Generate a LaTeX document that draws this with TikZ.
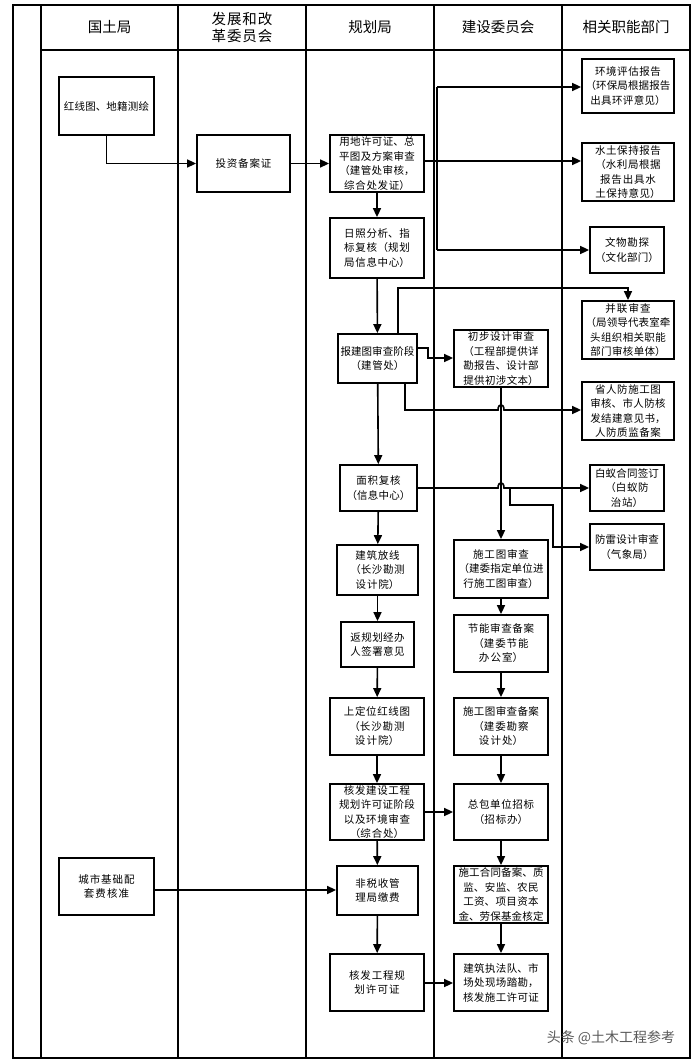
\documentclass[tikz,border=0pt]{standalone}
\usepackage{fontspec}
\setmainfont{Noto Sans CJK SC}
\XeTeXlinebreaklocale "zh"
\XeTeXlinebreakskip=0pt plus 1pt
\usetikzlibrary{arrows.meta}
\begin{document}
\begin{tikzpicture}[x=1pt,y=-1pt,
  box/.style={draw,line width=1.8pt,align=center,inner sep=0pt,font=\fontsize{10.5}{14.5}\selectfont},
  hd/.style={font=\fontsize{14.5}{17}\selectfont,align=center},
  ar/.style={line width=1.6pt,-{Triangle[length=9pt,width=8pt]}},
  ln/.style={line width=1.6pt}]
\useasboundingbox (0,0) rectangle (696,1064);
% frame
\draw[line width=1.8pt] (13,5) rectangle (690,1058);
\foreach \x in {41,178,306,434,562} \draw[line width=1.8pt] (\x,5) -- (\x,1058);
\draw[line width=1.8pt] (41,50) -- (690,50);
\node[hd] (h1) at (109.5,27) {国土局};
\node[hd,text width=112pt] (h2) at (242,27) {发展和改革委员会};
\node[hd] (h3) at (370,27) {规划局};
\node[hd] (h4) at (498,27) {建设委员会};
\node[hd] (h5) at (626,27) {相关职能部门};
% boxes
\newcommand{\bx}[6]{%
  \pgfmathsetmacro\bw{#4-#2}\pgfmathsetmacro\bh{#5-#3}\pgfmathsetmacro\tw{#4-#2-2}%
  \pgfmathsetmacro\cx{(#2+#4)/2}\pgfmathsetmacro\cy{(#3+#5)/2}%
  \node[box,minimum width=\bw pt,minimum height=\bh pt,text width=\tw pt] (#1) at (\cx,\cy) {#6};}
\bx{hx}{59}{77}{154}{135}{红线图、地籍测绘}
\bx{tz}{197}{135}{290}{192}{投资备案证}
\bx{yd}{330}{135}{424}{192}{用地许可证、总平图及方案审查（建管处审核，综合处发证）}
\bx{rz}{330}{218}{424}{278}{日照分析、指标复核（规划局信息中心）}
\bx{bj}{338}{334}{417}{383}{报建图审查阶段\\（建管处）}
\bx{cb}{454}{330}{548}{387}{初步设计审查（工程部提供详勘报告、设计部提供初涉文本）}
\bx{mj}{340}{465}{417}{511}{面积复核\\（信息中心）}
\bx{fx}{337}{545}{418}{595}{建筑放线\\（长沙勘测设计院）}
\bx{fg}{341}{622}{414}{667}{返规划经办人签署意见}
\bx{sd}{330}{698}{424}{755}{上定位红线图\\（长沙勘测设计院）}
\bx{hf}{330}{784}{424}{840}{核发建设工程规划许可证阶段以及环境审查\\（综合处）}
\bx{fs}{337}{866}{418}{915}{非税收管理局缴费}
\bx{hg}{330}{954}{424}{1011}{核发工程规划许可证}
\bx{cs}{59}{858}{154}{915}{城市基础配套费核准}
\bx{sg}{454}{540}{548}{598}{施工图审查\\（建委指定单位进行施工图审查）}
\bx{jn}{454}{615}{548}{672}{节能审查备案\\（建委节能办公室）}
\bx{ba}{454}{698}{548}{755}{施工图审查备案\\（建委勘察设计处）}
\bx{zb}{454}{784}{548}{840}{总包单位招标\\（招标办）}
\bx{ht}{454}{866}{548}{923}{施工合同备案、质监、安监、农民工资、项目资本金、劳保基金核定}
\bx{zf}{454}{954}{548}{1011}{建筑执法队、市场处现场踏勘，核发施工许可证}
\bx{hj}{582}{59}{674}{113}{环境评估报告\\（环保局根据报告出具环评意见）}
\bx{st}{582}{143}{674}{201}{水土保持报告\\（水利局根据报告出具水土保持意见）}
\bx{ww}{590}{227}{664}{273}{文物勘探\\（文化部门）}
\bx{bl}{582}{301}{674}{359}{并联审查\\（局领导代表室牵头组织相关职能部门审核单体）}
\bx{rf}{582}{382}{674}{440}{省人防施工图审核、市人防核发结建意见书，人防质监备案}
\bx{by}{590}{465}{664}{511}{白蚁合同签订\\（白蚁防治站）}
\bx{fl}{590}{524}{664}{570}{防雷设计审查\\（气象局）}
% connectors
\draw[ar] (hx.south) |- (tz.west);
\draw[ar] (tz) -- (yd);
\coordinate (j1) at (437,161);
\draw[ln] (yd.east |- j1) -- (j1);
\draw[ar] (437,87) -- (hj.west|-0,87);
\draw[ln] (437,87) -- (437,250);
\draw[ar] (j1) -- (st.west|-j1);
\draw[ar] (437,250) -- (ww.west|-0,250);
\draw[ar] (yd) -- (rz);
\draw[ar] (rz) -- (bj);
\draw[ar] (bj.east|-0,348) -- (428,348) -- (428,358) -- (cb.west|-0,358);
\draw[ar] (398,334) -- (398,288) -- (628,288) -- (bl.north-|628,0);
\draw[ar] (405,383) -- (405,410) -- (498,410) .. controls (498,403) and (504,403) .. (504,410) -- (rf.west|-0,410);
\draw[ar] (bj) -- (mj);
\draw[ar] (cb.south-|501,0) -- (sg.north-|501,0);
\draw[ar] (mj.east|-0,488) -- (498,488) .. controls (498,481) and (504,481) .. (504,488) -- (by.west|-0,488);
\draw[ar] (510,488) -- (510,505) -- (553,505) -- (553,547) -- (fl.west|-0,547);
\draw[ar] (mj) -- (fx);
\draw[ar] (fx) -- (fg);
\draw[ar] (fg) -- (sd);
\draw[ar] (sd) -- (hf);
\draw[ar] (hf) -- (fs);
\draw[ar] (fs) -- (hg);
\draw[ar] (sg) -- (jn);
\draw[ar] (jn) -- (ba);
\draw[ar] (ba) -- (zb);
\draw[ar] (zb) -- (ht);
\draw[ar] (ht) -- (zf);
\draw[ar] (hf.east|-0,812) -- (zb.west|-0,812);
\draw[ar] (cs.east|-0,890) -- (fs.west|-0,890);
\draw[ar] (hg.east|-0,983) -- (zf.west|-0,983);
\node[text=gray!70!black,font=\fontsize{14}{16}\selectfont] (wm) at (611,1038) {头条 @土木工程参考};
\end{tikzpicture}
\end{document}
